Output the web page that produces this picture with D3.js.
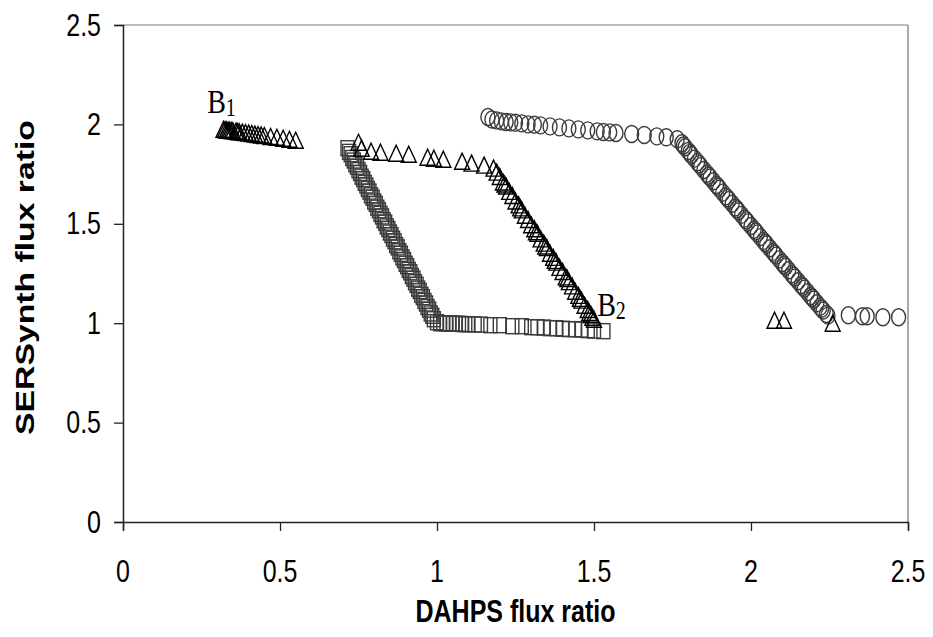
<!DOCTYPE html>
<html>
<head>
<meta charset="utf-8">
<script src="https://cdn.jsdelivr.net/npm/d3@7/dist/d3.min.js"></script>
<style>
  html, body { margin: 0; padding: 0; background: #fff; }
  svg { display: block; }
</style>
</head>
<body>
<svg id="chart" width="933" height="637"></svg>
<script>
// ---------- data ----------
const xTicks = [0, 0.5, 1, 1.5, 2, 2.5];
const yTicks = [0, 0.5, 1, 1.5, 2, 2.5];
const xTitle = "DAHPS flux ratio";
const yTitle = "SERSynth flux ratio";

// triangles series
const triX = [0.320,0.325,0.330,0.335,0.340,0.345,0.350,0.360,0.365,0.370,0.380,0.390,0.400,0.410,0.420,0.430,0.440,0.450,0.470,0.490,0.510,0.530,0.550,
  0.750,0.760,0.790,0.820,0.870,0.910,0.970,0.990,1.020,1.080,1.110,1.150,1.180,
  1.190,1.200,1.210,1.215,1.220,1.230,1.240,1.250,1.260,1.265,1.270,1.280,1.290,1.300,1.310,1.315,1.320,1.330,1.340,1.345,1.350,1.360,1.370,1.375,1.380,1.390,1.400,1.410,1.415,1.420,1.430,1.440,1.450,1.455,1.460,1.470,1.480,1.485,1.490,1.495,1.500,
  2.075,2.105,2.260];
const triY = [1.975,1.974,1.972,1.971,1.970,1.969,1.968,1.966,1.964,1.963,1.961,1.959,1.956,1.954,1.951,1.949,1.947,1.944,1.939,1.935,1.930,1.925,1.920,
  1.910,1.880,1.865,1.860,1.855,1.850,1.835,1.830,1.825,1.815,1.805,1.795,1.780,
  1.760,1.738,1.710,1.700,1.690,1.663,1.642,1.615,1.595,1.580,1.570,1.543,1.522,1.495,1.475,1.460,1.452,1.424,1.403,1.388,1.380,1.352,1.331,1.316,1.307,1.281,1.260,1.233,1.225,1.209,1.188,1.161,1.140,1.125,1.116,1.090,1.069,1.054,1.045,1.030,1.020,
  1.015,1.015,1.000];

// squares series
const sqX = [0.715,0.720,0.725,0.730,0.735,0.740,0.745,0.750,0.755,0.760,0.765,0.770,0.775,0.780,0.785,0.790,0.795,0.800,0.805,0.810,0.815,0.820,0.825,0.830,0.835,0.840,0.845,0.850,0.855,0.860,0.865,0.870,0.875,0.880,0.885,0.890,0.895,0.900,0.905,0.910,0.915,0.920,0.925,0.930,0.935,0.940,0.945,0.950,0.955,0.960,0.965,0.970,0.975,0.980,0.985,0.990,
  1.000,1.010,1.020,1.030,1.040,1.050,1.060,1.070,1.080,1.090,1.100,1.120,1.140,1.170,1.200,1.240,1.270,1.300,1.320,1.340,1.360,1.380,1.400,1.420,1.440,1.460,1.480,1.500,1.530];
const sqY = [1.880,1.862,1.850,1.831,1.818,1.800,1.787,1.770,1.756,1.737,1.725,1.706,1.693,1.675,1.662,1.643,1.631,1.612,1.600,1.581,1.568,1.550,1.537,1.518,1.506,1.487,1.474,1.456,1.443,1.425,1.412,1.393,1.381,1.362,1.349,1.331,1.318,1.299,1.287,1.268,1.256,1.237,1.224,1.206,1.193,1.174,1.162,1.143,1.131,1.112,1.099,1.081,1.068,1.049,1.037,1.020,
  1.005,1.000,1.000,0.999,0.998,0.998,0.997,0.997,0.996,0.995,0.995,0.994,0.993,0.990,0.990,0.985,0.985,0.980,0.980,0.978,0.975,0.975,0.972,0.970,0.970,0.968,0.965,0.963,0.960];

// circles series
const ciX = [1.162,1.175,1.190,1.205,1.220,1.235,1.250,1.270,1.290,1.310,1.330,1.360,1.390,1.420,1.450,1.480,1.510,1.530,1.550,1.570,1.620,1.660,1.700,1.730,1.765,
  1.780,1.785,1.790,1.800,1.805,1.810,1.820,1.830,1.835,1.840,1.850,1.860,1.865,1.870,1.880,1.890,1.895,1.900,1.910,1.920,1.925,1.930,1.940,1.950,1.955,1.960,1.970,1.980,1.985,1.990,2.000,2.010,2.015,2.020,2.030,2.040,2.045,2.050,2.060,2.070,2.075,2.080,2.090,2.100,2.105,2.110,2.120,2.130,2.135,2.140,2.150,2.160,2.165,2.170,2.180,2.190,2.195,2.200,2.210,2.220,2.225,2.230,2.240,2.245,
  2.310,2.355,2.370,2.420,2.470];
const ciY = [2.037,2.025,2.020,2.015,2.012,2.010,2.008,2.005,2.000,1.998,1.995,1.990,1.985,1.980,1.975,1.970,1.965,1.962,1.960,1.957,1.952,1.947,1.940,1.935,1.925,
  1.905,1.894,1.885,1.866,1.857,1.846,1.828,1.810,1.800,1.790,1.771,1.752,1.742,1.733,1.714,1.695,1.686,1.676,1.657,1.638,1.629,1.620,1.601,1.582,1.573,1.563,1.545,1.526,1.517,1.507,1.489,1.470,1.461,1.452,1.433,1.414,1.405,1.396,1.377,1.359,1.349,1.340,1.321,1.303,1.293,1.284,1.266,1.247,1.238,1.229,1.211,1.192,1.183,1.174,1.156,1.137,1.128,1.119,1.100,1.082,1.073,1.064,1.046,1.038,
  1.040,1.035,1.035,1.030,1.030];

// annotations
const labels = [
  { base: "B", sub: "1", x: 0.268, y: 2.055 },
  { base: "B", sub: "2", x: 1.51, y: 1.035 }
];

// ---------- layout ----------
const svg = d3.select("#chart");
const margin = { left: 123, top: 25, right: 25, bottom: 115 };
const W = 933, H = 637;
const x = d3.scaleLinear().domain([0, 2.5]).range([margin.left, W - margin.right]);
const y = d3.scaleLinear().domain([0, 2.5]).range([H - margin.bottom, margin.top]);
const K = 1.22;          // vertical stretch of the original picture
const FS = 25;           // font size of axis text

// plot border (top & right in grey)
svg.append("line").attr("x1", x(0)).attr("x2", x(2.5)).attr("y1", y(2.5)).attr("y2", y(2.5))
  .attr("stroke", "#a6a6a6").attr("stroke-width", 1.5);
svg.append("line").attr("x1", x(2.5)).attr("x2", x(2.5)).attr("y1", y(0)).attr("y2", y(2.5))
  .attr("stroke", "#8c8c8c").attr("stroke-width", 1.5);

const tickFont = "'Liberation Sans', Arial, sans-serif";

const xAxis = svg.append("g").attr("transform", `translate(0,${y(0)})`)
  .call(d3.axisBottom(x).tickValues(xTicks).tickFormat("").tickSize(9));
const yAxis = svg.append("g").attr("transform", `translate(${x(0)},0)`)
  .call(d3.axisLeft(y).tickValues(yTicks).tickFormat("").tickSize(9));

[xAxis, yAxis].forEach(a => {
  a.select(".domain").attr("stroke", "#222").attr("stroke-width", 1.5);
  a.selectAll(".tick line").attr("stroke", "#222").attr("stroke-width", 1.3);
});

// tick labels (stretched vertically like the original)
svg.append("g").selectAll("text").data(xTicks).join("text")
  .attr("transform", d => `translate(${x(d)},${y(0) + 49}) scale(1,${K})`)
  .attr("text-anchor", "middle").attr("dy", "0.35em")
  .attr("font-family", tickFont).attr("font-size", FS).text(d => d);
svg.append("g").selectAll("text").data(yTicks).join("text")
  .attr("transform", d => `translate(${x(0) - 22},${y(d)}) scale(1,${K})`)
  .attr("text-anchor", "end").attr("dy", "0.35em")
  .attr("font-family", tickFont).attr("font-size", FS).text(d => d);

// axis titles
svg.append("text").attr("transform", `translate(${(x(0) + x(2.5)) / 2},611) scale(1,${K})`)
  .attr("text-anchor", "middle").attr("dy", "0.35em").attr("font-family", tickFont).attr("font-weight", "bold")
  .attr("font-size", FS).text(xTitle);
svg.append("text").attr("transform", `translate(25,${(y(0) + y(2.5)) / 2 + 4}) rotate(-90) scale(${1.35},1)`)
  .attr("text-anchor", "middle").attr("dy", "0.35em").attr("font-family", tickFont).attr("font-weight", "bold")
  .attr("font-size", FS).text(yTitle);

// ---------- marks ----------
const sq = d3.zip(sqX, sqY);
const ci = d3.zip(ciX, ciY);
const tri = d3.zip(triX, triY);

const SW = 13, SH = 15; // square size
svg.append("g").selectAll("rect").data(sq).join("rect")
  .attr("x", d => x(d[0]) - SW / 2).attr("y", d => y(d[1]) - SH / 2)
  .attr("width", SW).attr("height", SH)
  .attr("fill", "none").attr("stroke", "#3c3c3c").attr("stroke-width", 1.4);

svg.append("g").selectAll("ellipse").data(ci).join("ellipse")
  .attr("cx", d => x(d[0])).attr("cy", d => y(d[1])).attr("rx", 7).attr("ry", 8.5)
  .attr("fill", "none").attr("stroke", "#3c3c3c").attr("stroke-width", 1.4);

const tw = 15, th = 16;
svg.append("g").selectAll("path").data(tri).join("path")
  .attr("transform", d => `translate(${x(d[0])},${y(d[1])})`)
  .attr("d", `M0,${-th / 2}L${tw / 2},${th / 2}L${-tw / 2},${th / 2}Z`)
  .attr("fill", "none").attr("stroke", "#000").attr("stroke-width", 1.4);

// labels B1, B2
labels.forEach(l => {
  const t = svg.append("text").attr("transform", `translate(${x(l.x)},${y(l.y)}) scale(1,${K})`)
    .attr("font-family", "'Liberation Serif', 'Times New Roman', serif").attr("font-size", 28).attr("fill", "#000");
  t.append("tspan").text(l.base);
  t.append("tspan").attr("font-size", 20).attr("dy", 2).text(l.sub);
});
</script>
</body>
</html>
